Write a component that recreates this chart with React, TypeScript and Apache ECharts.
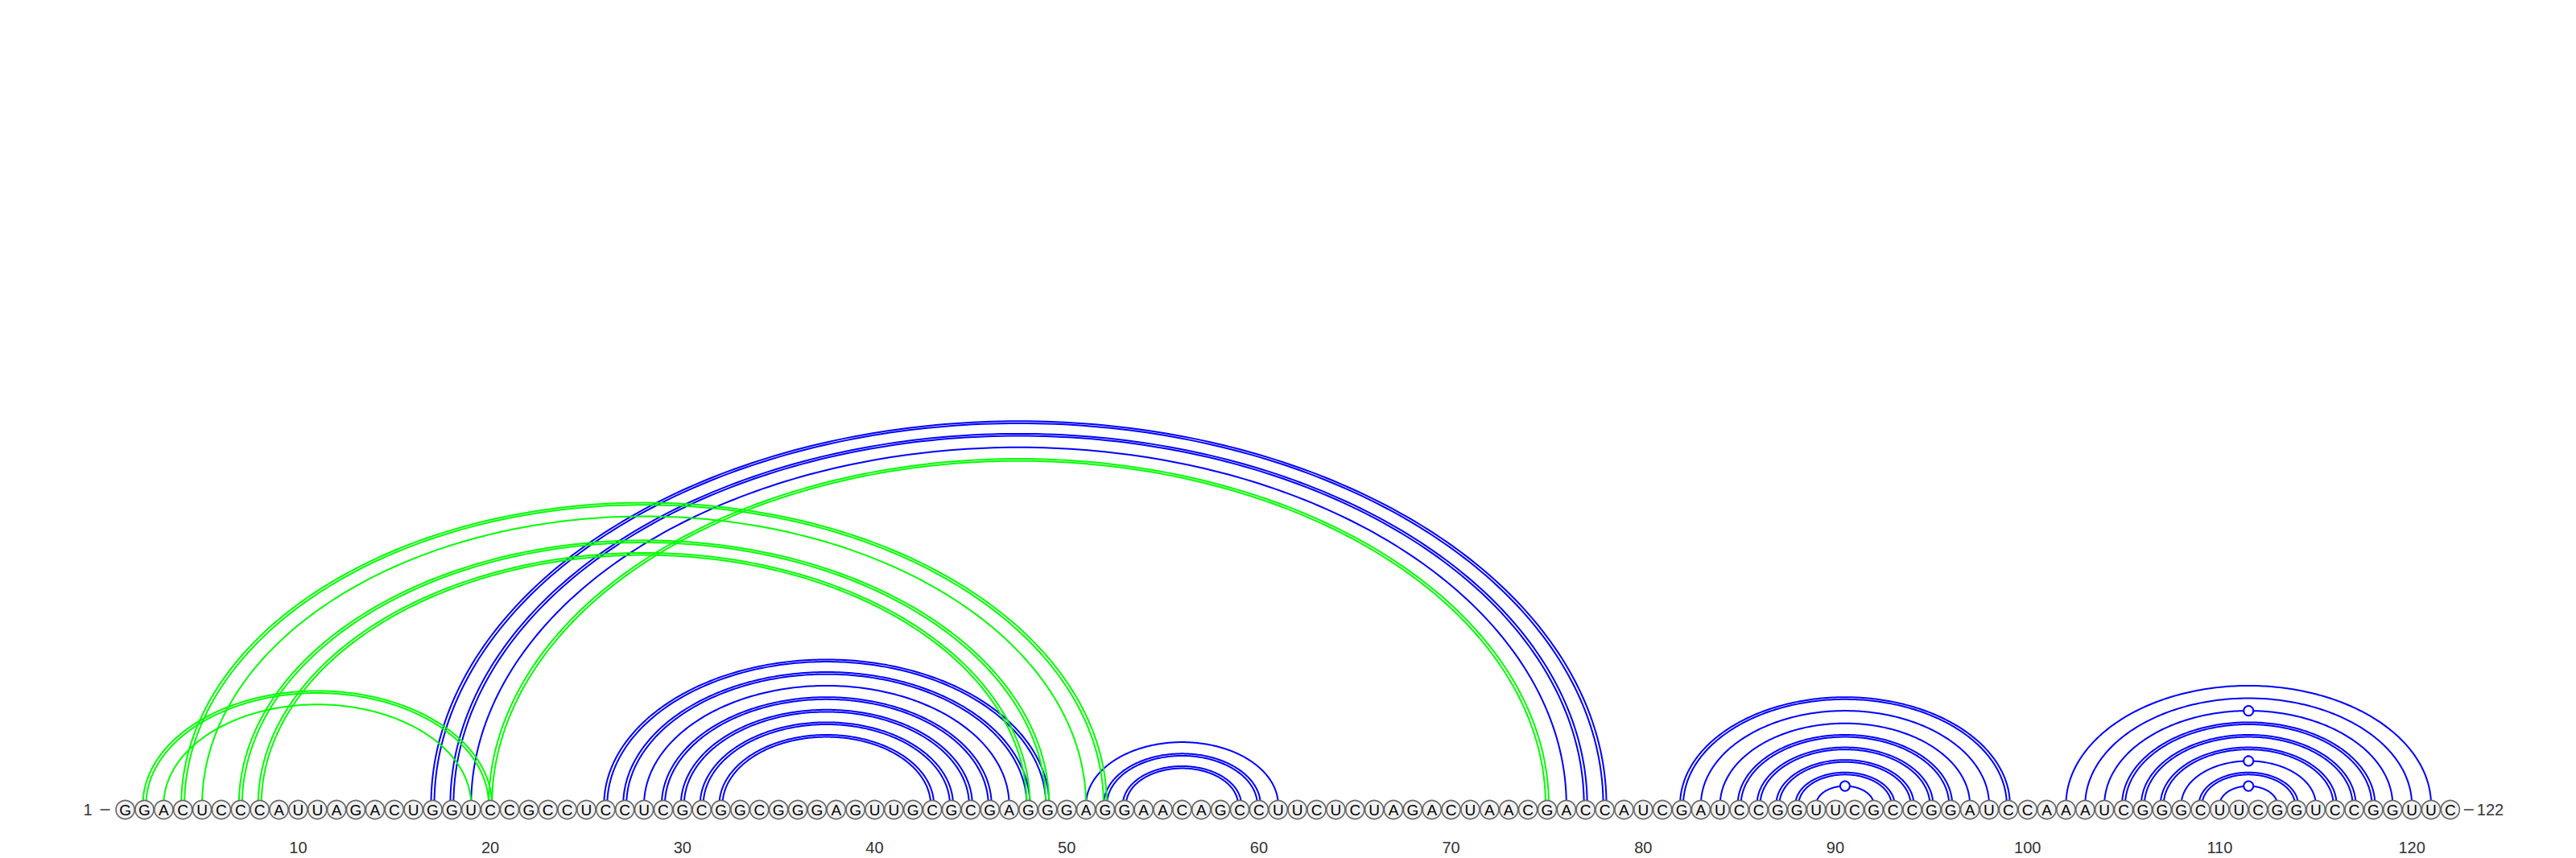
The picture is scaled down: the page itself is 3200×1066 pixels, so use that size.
import React, { useEffect, useRef } from 'react';
import * as echarts from 'echarts';

// sequence (122 nt), one letter per position
const sequence = (
  'GGACUCCCAU' + 'UAGACUGGUC' + 'CGCCUCCUCG' + 'CGGCGGGAGU' +
  'UGCGCGAGGG' + 'AGGAACAGCC' + 'UUCUCUAGAC' + 'UAACGACCAU' +
  'CGAUCCGGUU' + 'CGCCGGAUCC' + 'AAAUCGGGCU' + 'UCGGUCCGGU' + 'UC'
).split('');
const positions = sequence.map((_, k) => k + 1);

const tickValues = [10, 20, 30, 40, 50, 60, 70, 80, 90, 100, 110, 120];

// [i, j, number of lines drawn]
const bluePairs = [
  [17, 78, 2], [18, 77, 2], [19, 76, 1],
  [26, 49, 2], [27, 48, 2], [28, 47, 1], [29, 46, 2], [30, 45, 2], [31, 44, 2], [32, 43, 2],
  [51, 61, 1], [52, 60, 2], [53, 59, 2],
  [82, 99, 2], [83, 98, 1], [84, 97, 1], [85, 96, 2], [86, 95, 2], [87, 94, 2], [88, 93, 2], [89, 92, 1],
  [102, 121, 1], [103, 120, 1], [104, 119, 1], [105, 118, 2], [106, 117, 2], [107, 116, 2],
  [108, 115, 1], [109, 114, 2], [110, 113, 1],
];

const greenPairs = [
  [2, 20, 2], [3, 19, 1], [4, 52, 2], [5, 51, 1], [7, 49, 2], [8, 48, 2], [20, 75, 2],
];

// pairs with a small open circle on top of the arc
const markedPairs = [[89, 92], [104, 119], [108, 115], [110, 113]];

const ARC_RATIO = 0.653;
const LINE_GAP = 2;
const NT_Y = -6;

const isMarked = (i: number, j: number) => markedPairs.some(([a, b]) => a === i && b === j);

const halfEllipse = (cx: number, cy: number, rx: number, ry: number) => {
  const pts: number[][] = [];
  const n = 200;
  for (let k = 0; k <= n; k++) {
    const t = Math.PI - (Math.PI * k) / n;
    pts.push([cx + rx * Math.cos(t), cy - ry * Math.sin(t)]);
  }
  return pts;
};

const arcRenderer = (color: string) => (params: any, api: any) => {
  const i = api.value(0);
  const j = api.value(1);
  const lines = api.value(2);
  const a = api.coord([i, 0]);
  const b = api.coord([j, 0]);
  const cx = (a[0] + b[0]) / 2;
  const r = (b[0] - a[0]) / 2;
  const offsets = lines === 2 ? [LINE_GAP, -LINE_GAP] : [0];
  const children: any[] = offsets.map((o) => ({
    type: 'polyline',
    shape: { points: halfEllipse(cx, a[1], r + o, (r + o) * ARC_RATIO) },
    style: { stroke: color, lineWidth: 2, fill: 'none' },
  }));
  if (isMarked(i, j)) {
    children.push({
      type: 'circle',
      shape: { cx, cy: a[1] - r * ARC_RATIO, r: 6 },
      style: { fill: '#fff', stroke: color, lineWidth: 2 },
    });
  }
  return { type: 'group', children };
};

const App: React.FC = () => {
  const chartRef = useRef<HTMLDivElement>(null);

  useEffect(() => {
    if (!chartRef.current) return;
    const chart = echarts.init(chartRef.current, undefined, { renderer: 'svg' });

    const option: any = {
      animation: false,
      backgroundColor: '#fff',
      grid: { left: 131.7, right: 132.3, top: 0, bottom: 66 },
      xAxis: {
        type: 'value',
        min: 0,
        max: 123,
        offset: 25,
        axisLine: { show: false },
        splitLine: { show: false },
        axisTick: {
          show: true,
          customValues: tickValues,
          length: 12,
          lineStyle: { color: '#333', width: 1.5 },
        },
        axisLabel: {
          customValues: tickValues,
          margin: 18,
          fontSize: 20,
          fontFamily: 'Liberation Sans',
          color: '#333',
        },
      },
      yAxis: { type: 'value', min: 0, max: 1000, show: false },
      series: [
        {
          type: 'custom',
          name: 'blue',
          clip: false,
          renderItem: arcRenderer('#0000ff'),
          data: bluePairs,
        },
        {
          type: 'custom',
          name: 'green',
          clip: false,
          renderItem: arcRenderer('#00ff00'),
          data: greenPairs,
        },
        {
          type: 'custom',
          name: 'nucleotides',
          clip: false,
          renderItem: (params: any, api: any) => {
            const p = api.value(0);
            const [x, y] = api.coord([p, NT_Y]);
            return {
              type: 'group',
              children: [
                {
                  type: 'circle',
                  shape: { cx: x, cy: y, r: 11.5 },
                  style: { fill: '#f1f1f1', stroke: '#666', lineWidth: 1.6 },
                },
                {
                  type: 'text',
                  x,
                  y: y + 0.5,
                  style: {
                    text: sequence[p - 1],
                    fill: '#000',
                    font: '19px "Liberation Sans"',
                    align: 'center',
                    verticalAlign: 'middle',
                  },
                },
              ],
            };
          },
          data: positions.map((p) => [p, NT_Y]),
        },
        {
          type: 'custom',
          name: 'ends',
          clip: false,
          renderItem: (params: any, api: any) => {
            const p = api.value(0);
            const [x, y] = api.coord([p, NT_Y]);
            const left = p === 1;
            return {
              type: 'group',
              children: [
                {
                  type: 'line',
                  shape: left
                    ? { x1: x - 31, y1: y, x2: x - 19, y2: y }
                    : { x1: x + 17, y1: y, x2: x + 29, y2: y },
                  style: { stroke: '#333', lineWidth: 1.5 },
                },
                {
                  type: 'text',
                  x: left ? x - 41 : x + 33,
                  y,
                  style: {
                    text: String(p),
                    fill: '#333',
                    font: '20px "Liberation Sans"',
                    align: left ? 'right' : 'left',
                    verticalAlign: 'middle',
                  },
                },
              ],
            };
          },
          data: [[1, NT_Y], [positions.length, NT_Y]],
        },
      ],
    };

    chart.setOption(option);
    return () => {
      chart.dispose();
    };
  }, []);

  return (
    <div
      ref={chartRef}
      style={{ position: 'fixed', left: 0, top: 0, width: '3200px', height: '1066px' }}
    />
  );
};

export default App;
